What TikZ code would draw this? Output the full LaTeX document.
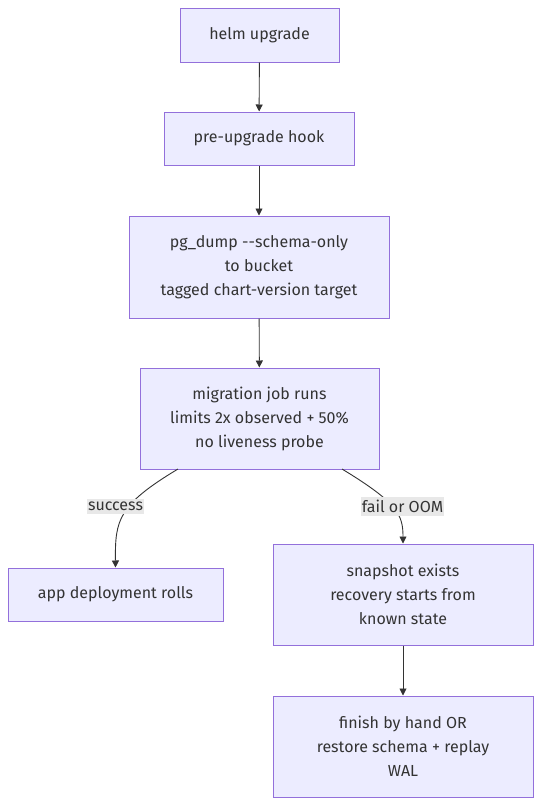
\documentclass[tikz,border=0pt]{standalone}
\usepackage{fontspec}
\setmainfont{Fira Sans}
\usetikzlibrary{arrows.meta}
\definecolor{boxfill}{HTML}{ECECFF}
\definecolor{boxline}{HTML}{9370DB}
\definecolor{edgeline}{HTML}{333333}
\definecolor{lblfill}{HTML}{E8E8E8}

\begin{document}
\begin{tikzpicture}[x=1pt,y=-1pt,
    box/.style={draw=boxline, fill=boxfill, line width=1pt, align=center, text=edgeline,
        font=\fontsize{16}{24}\selectfont, inner sep=0pt},
    edgelbl/.style={fill=lblfill, text=edgeline, inner xsep=1pt, inner ysep=3pt, font=\fontsize{16}{18}\selectfont},
    arr/.style={draw=edgeline, line width=0.9pt, -{Triangle[length=7pt,width=7pt]}}]
    \useasboundingbox (0,0) rectangle (541,806);
    % Define nodes
    \node (helm) at (259.5,35) [box, minimum width=159pt, minimum height=54pt] {helm upgrade};
    \node (hook) at (259,138.5) [box, minimum width=190pt, minimum height=53pt] {pre-upgrade hook};
    \node (dump) at (259,267) [box, minimum width=260pt, minimum height=102pt] {pg\_dump -{}-schema-only\\to bucket\\tagged chart-version target};
    \node (mig) at (259.5,418.5) [box, minimum width=239pt, minimum height=101pt] {migration job runs\\limits 2x observed + 50\%\\no liveness probe};
    \node (app) at (115.5,594.5) [box, minimum width=215pt, minimum height=53pt] {app deployment rolls};
    \node (snap) at (403,594.5) [box, minimum width=260pt, minimum height=101pt] {snapshot exists\\recovery starts from\\known state};
    \node (fin) at (403,746.5) [box, minimum width=260pt, minimum height=101pt] {finish by hand OR\\restore schema + replay\\WAL};

    % Draw arrows between nodes
    \draw[arr] (helm) -- (hook);
    \draw[arr] (hook) -- (dump);
    \draw[arr] (dump) -- (mig);
    \draw[arr] (snap) -- (fin);
    \coordinate (okstart) at (178,469);
    \coordinate (failstart) at (342,469);
    \draw[arr] (okstart) .. controls (118,505) and (115,520) .. (app.north);
    \draw[arr] (failstart) .. controls (398,503) and (403,515) .. (snap.north);

    % Labels on the branches
    \node (ok) at (115.5,506.5) [edgelbl] {success};
    \node (fail) at (402.5,506.5) [edgelbl] {fail or OOM};
\end{tikzpicture}
\end{document}
